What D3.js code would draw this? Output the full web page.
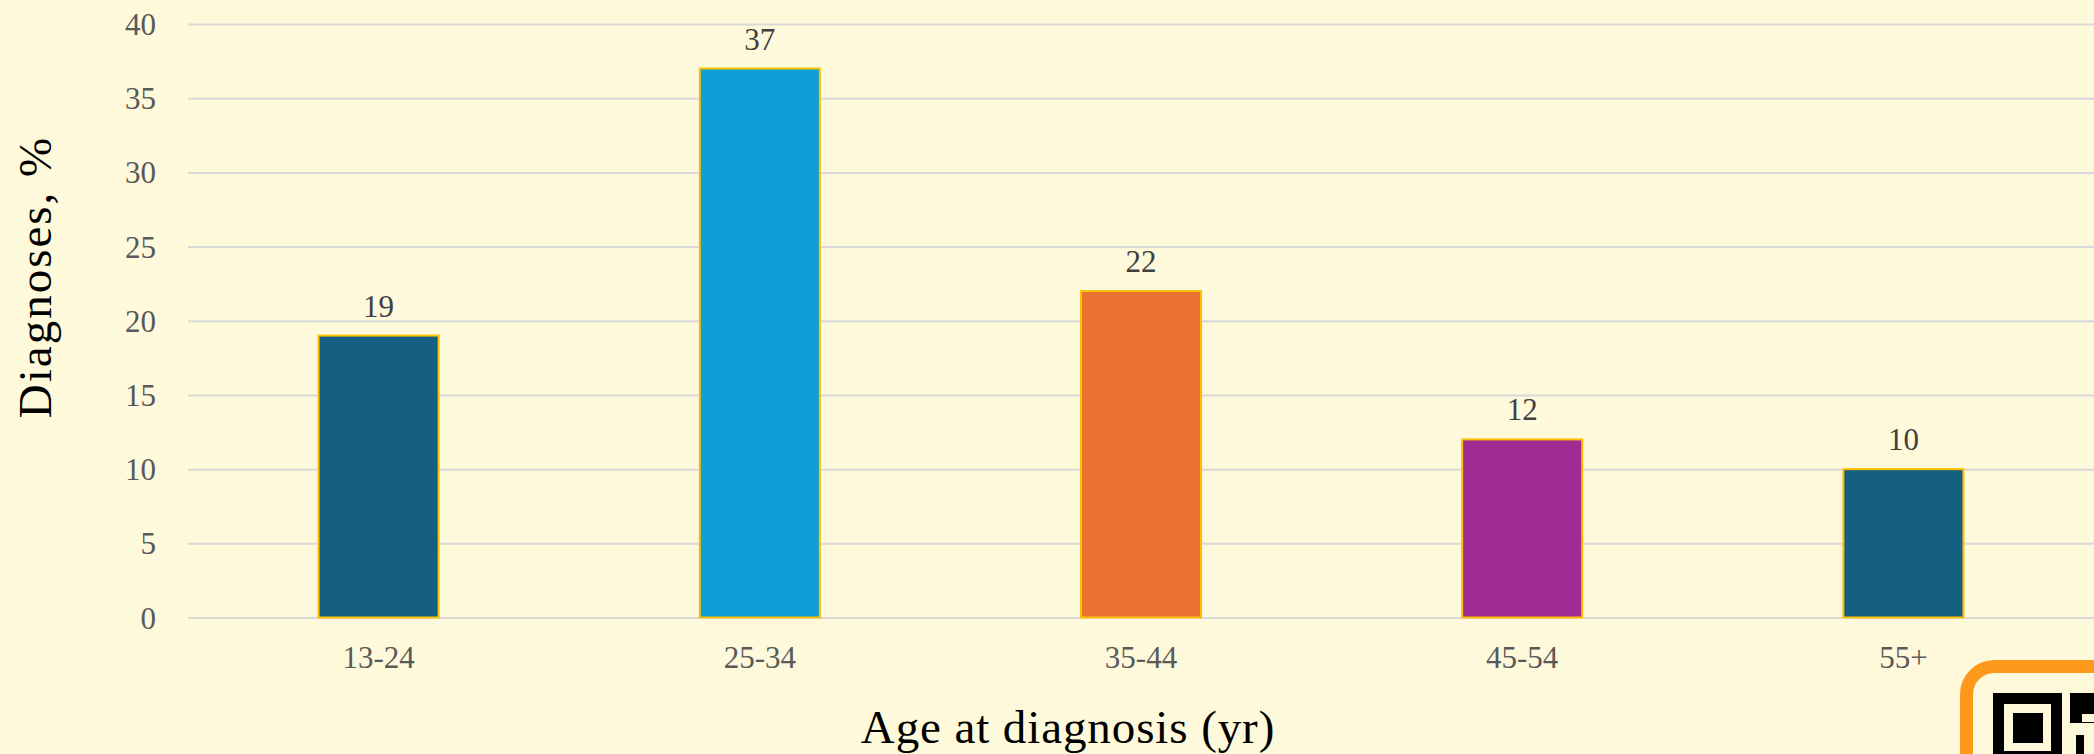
<!DOCTYPE html>
<html>
<head>
<meta charset="utf-8">
<script src="https://cdn.jsdelivr.net/npm/d3@7"></script>
<style>
  html, body { margin: 0; padding: 0; background: #FDF9DA; overflow: hidden; }
  svg { display: block; }
  text { font-family: "Liberation Serif", "Times New Roman", serif; }
</style>
</head>
<body>
<svg id="chart" width="2094" height="754"></svg>
<script>
// data
const ageGroups = ["13-24", "25-34", "35-44", "45-54", "55+"];
const diagnosesPct = [19, 37, 22, 12, 10];
const barColors = ["#156082", "#0F9ED5", "#E97132", "#A02B93", "#156082"];
const yTicks = [0, 5, 10, 15, 20, 25, 30, 35, 40];

const width = 2094, height = 754;
const plot = { left: 188, right: 2094, top: 24, bottom: 617.5 };

const svg = d3.select("#chart");

svg.append("rect")
  .attr("width", width).attr("height", height)
  .attr("fill", "#FDF9DA");

const x = d3.scaleBand()
  .domain(ageGroups)
  .range([plot.left, plot.right])
  .paddingInner(0.685)
  .paddingOuter(0.3425);

const y = d3.scaleLinear()
  .domain([0, 40])
  .range([plot.bottom, plot.top]);

// gridlines + y tick labels
const yAxis = svg.append("g")
  .attr("transform", `translate(${plot.left},0)`)
  .call(d3.axisLeft(y).tickValues(yTicks).tickSize(-(plot.right - plot.left)).tickPadding(32));
yAxis.select(".domain").remove();
yAxis.selectAll(".tick line").attr("stroke", "#D9D9D9").attr("stroke-width", 2);
yAxis.selectAll(".tick text")
  .attr("fill", "#595959")
  .style("font-size", "31px")
  .attr("dy", "0.34em");

// x tick labels
const xAxis = svg.append("g")
  .attr("transform", `translate(0,${plot.bottom})`)
  .call(d3.axisBottom(x).tickSize(0).tickPadding(0));
xAxis.select(".domain").remove();
xAxis.selectAll(".tick text")
  .attr("fill", "#595959")
  .style("font-size", "31px")
  .attr("y", 50)
  .attr("dy", 0);

// bars
svg.append("g")
  .selectAll("rect")
  .data(diagnosesPct)
  .join("rect")
    .attr("x", (d, i) => x(ageGroups[i]))
    .attr("y", d => y(d))
    .attr("width", x.bandwidth())
    .attr("height", d => y(0) - y(d))
    .attr("fill", (d, i) => barColors[i])
    .attr("stroke", "#FFC000")
    .attr("stroke-width", 2);

// value labels
svg.append("g")
  .selectAll("text")
  .data(diagnosesPct)
  .join("text")
    .attr("x", (d, i) => x(ageGroups[i]) + x.bandwidth() / 2)
    .attr("y", d => y(d) - 19)
    .attr("text-anchor", "middle")
    .attr("fill", "#404040")
    .style("font-size", "31px")
    .text(d => d);

// axis titles
svg.append("text")
  .attr("x", 1068)
  .attr("y", 743)
  .attr("text-anchor", "middle")
  .attr("fill", "#000")
  .style("font-size", "47px")
  .style("letter-spacing", "0.9px")
  .text("Age at diagnosis (yr)");

svg.append("text")
  .attr("transform", "translate(51,277) rotate(-90)")
  .attr("text-anchor", "middle")
  .attr("fill", "#000")
  .style("font-size", "47px")
  .style("letter-spacing", "2px")
  .text("Diagnoses, %");

// QR badge peeking in at bottom right
const qr = svg.append("g");
qr.append("rect")
  .attr("x", 1966.5).attr("y", 666.5)
  .attr("width", 200).attr("height", 200)
  .attr("rx", 28)
  .attr("fill", "#FDF9DA")
  .attr("stroke", "#FF991C")
  .attr("stroke-width", 13);
qr.append("rect").attr("x", 1993).attr("y", 693).attr("width", 69).attr("height", 69).attr("fill", "#000");
qr.append("rect").attr("x", 2004).attr("y", 704).attr("width", 47).attr("height", 47).attr("fill", "#FDF9DA");
qr.append("rect").attr("x", 2013).attr("y", 713).attr("width", 30).attr("height", 30).attr("fill", "#000");
qr.append("rect").attr("x", 2070).attr("y", 693).attr("width", 24).attr("height", 30).attr("fill", "#000");
qr.append("rect").attr("x", 2082).attr("y", 714).attr("width", 12).attr("height", 8).attr("fill", "#FDF9DA");
qr.append("rect").attr("x", 2076).attr("y", 735).attr("width", 8).attr("height", 19).attr("fill", "#000");
</script>
</body>
</html>
